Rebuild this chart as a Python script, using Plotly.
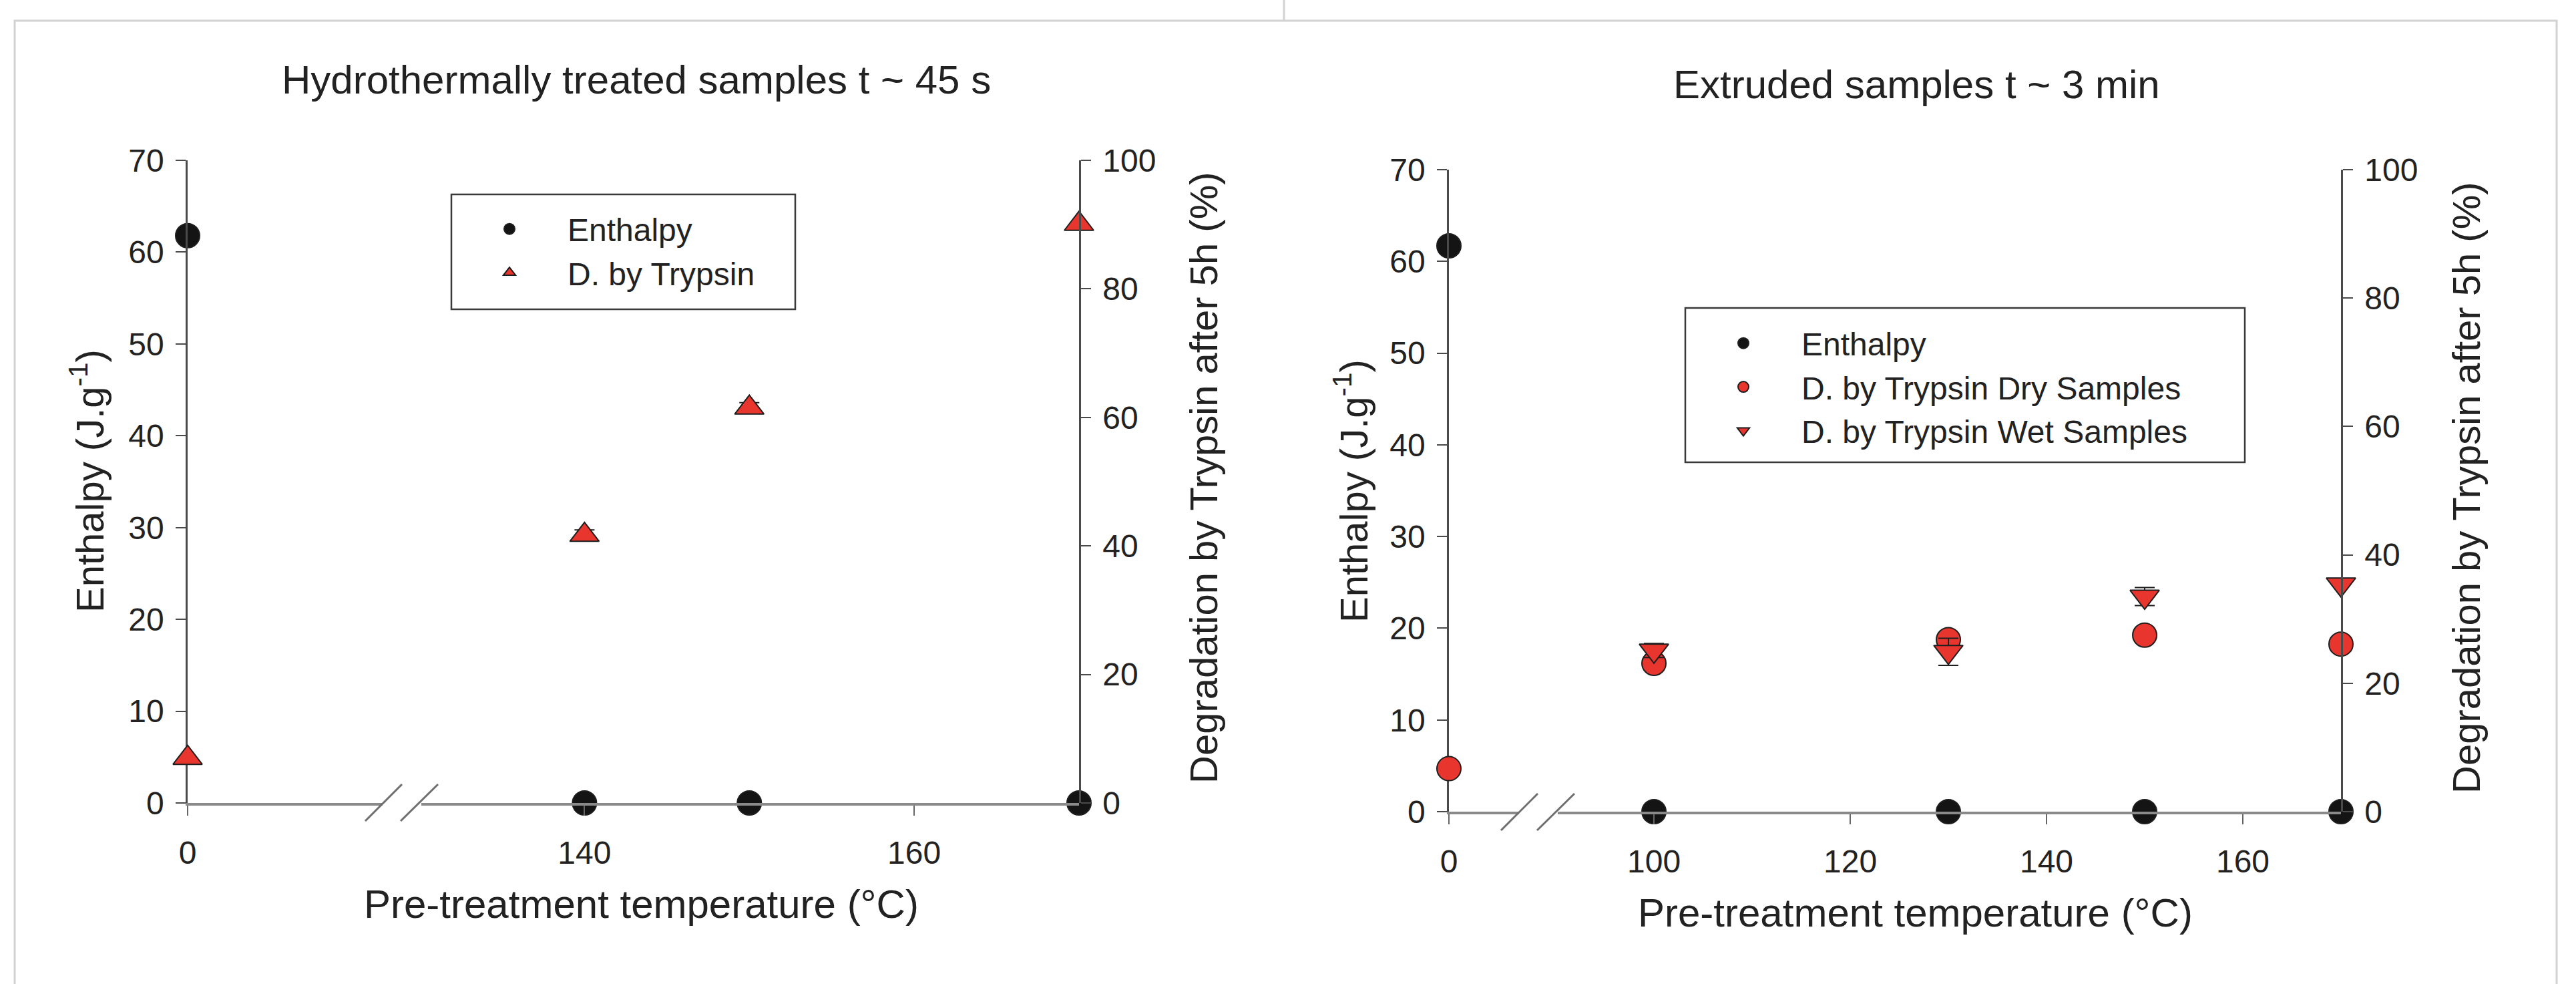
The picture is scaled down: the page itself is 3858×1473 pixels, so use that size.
import plotly.graph_objects as go

W, H = 3858, 1473

# ---------------- data ----------------
# Hydrothermally treated samples (t ~ 45 s)
hyd_temp = [0, 140, 150, 170]
hyd_enthalpy = [61.8, 0, 0, 0]            # J/g
hyd_trypsin = [7.0, 41.7, 61.5, 90.1]      # % degraded after 5 h
hyd_trypsin_err = [0, 0.8, 0.8, 0]

# Extruded samples (t ~ 3 min)
ext_temp = [0, 100, 130, 150, 170]
ext_enthalpy = [61.7, 0, 0, 0, 0]
ext_dry = [6.7, 23.1, 26.8, 27.5, 26.1]
ext_dry_err = [0, 0, 0.6, 0, 0]
ext_wet_temp = [100, 130, 150, 170]
ext_wet = [25.1, 24.9, 33.5, 35.4]
ext_wet_err = [1.1, 2.1, 1.4, 0]

hyd_xticks_low = [0]
hyd_xticks_high = [140, 160]
ext_xticks_low = [0]
ext_xticks_high = [100, 120, 140, 160]
enthalpy_ticks = [0, 10, 20, 30, 40, 50, 60, 70]
degr_ticks = [0, 20, 40, 60, 80, 100]

BREAK = 50  # values below the axis break go on the short left segment

# ---------------- style ----------------
FONT = "Liberation Sans, Arial, Helvetica, sans-serif"
TXT = "#222222"
RED = "#e8352e"
BLACK = "#141414"
EDGE = "#1e1e1e"


def px(x):
    return x / W


def py(y):
    return 1 - y / H


def split(xs, ys, errs=None):
    lo = [i for i, v in enumerate(xs) if v < BREAK]
    hi = [i for i, v in enumerate(xs) if v >= BREAK]
    out = []
    for idx in (lo, hi):
        ex = [xs[i] for i in idx]
        ey = [ys[i] for i in idx]
        ee = [errs[i] for i in idx] if errs is not None else None
        out.append((ex, ey, ee))
    return out


fig = go.Figure()


def add_series(xs, ys, errs, name, symbol, color, size, xlo, xhi, yax, legend):
    parts = split(xs, ys, errs)
    first = True
    for (ex, ey, ee), xa in zip(parts, (xlo, xhi)):
        if not ex:
            continue
        err = None
        if ee is not None and any(e > 0 for e in ee):
            err = dict(type="data", array=ee, color=EDGE, thickness=2, width=15)
        fig.add_trace(go.Scatter(
            x=ex, y=ey, mode="markers", name=name,
            xaxis=xa, yaxis=yax, legend=legend, legendgroup=legend + name,
            showlegend=first, cliponaxis=False,
            marker=dict(symbol=symbol, size=size, color=color,
                        line=dict(color=EDGE, width=2)),
            error_y=err,
        ))
        first = False


# Left panel: x (low seg), x2 (high seg), y (enthalpy), y2 (degradation)
add_series(hyd_temp, hyd_enthalpy, None, "Enthalpy", "circle", BLACK, 36,
           "x", "x2", "y", "legend")
add_series(hyd_temp, hyd_trypsin, hyd_trypsin_err, "D. by Trypsin", "triangle-up", RED, 38,
           "x", "x2", "y2", "legend")

# Right panel: x3 (low seg), x4 (high seg), y3 (enthalpy), y4 (degradation)
add_series(ext_temp, ext_enthalpy, None, "Enthalpy", "circle", BLACK, 36,
           "x3", "x4", "y3", "legend2")
add_series(ext_temp, ext_dry, ext_dry_err, "D. by Trypsin Dry Samples", "circle", RED, 36,
           "x3", "x4", "y4", "legend2")
add_series(ext_wet_temp, ext_wet, ext_wet_err, "D. by Trypsin Wet Samples", "triangle-down", RED, 38,
           "x3", "x4", "y4", "legend2")

# ---------------- axes ----------------
xcommon = dict(showline=True, linecolor="#8a8a8a", linewidth=4, ticks="outside",
               ticklen=15, tickwidth=2, tickcolor="#666666", showgrid=False,
               zeroline=False, tickfont=dict(family=FONT, size=48, color=TXT),
               ticklabelstandoff=14, fixedrange=True, automargin=False)
ycommon = dict(showline=True, linecolor="#4a4a4a", linewidth=2.5, ticks="outside",
               ticklen=15, tickwidth=2, tickcolor="#4a4a4a", showgrid=False,
               zeroline=False, tickfont=dict(family=FONT, size=48, color=TXT),
               ticklabelstandoff=8, fixedrange=True, automargin=False)

# geometry (pixel positions of axis ends)
L_y0, L_ytop = 1202, 240
L_x0, L_brk1, L_brk2, L_x1 = 281, 573, 631, 1616
R_y0, R_ytop = 1215, 254
R_x0, R_brk1, R_brk2, R_x1 = 2170, 2275, 2333, 3506

L_pp = (L_x1 - L_brk2) / (170 - 130.1)   # px per degree, left panel
R_pp = (R_x1 - R_brk2) / (170 - 90.2)    # px per degree, right panel

fig.update_layout(
    xaxis=dict(xcommon, domain=[px(L_x0), px(L_brk1)],
               range=[0, (L_brk1 - L_x0) / L_pp], tickvals=hyd_xticks_low, anchor="y"),
    xaxis2=dict(xcommon, domain=[px(L_brk2), px(L_x1)],
                range=[170 - (L_x1 - L_brk2) / L_pp, 170], tickvals=hyd_xticks_high, anchor="y"),
    yaxis=dict(ycommon, domain=[py(L_y0), py(L_ytop)], range=[0, 70],
               tickvals=enthalpy_ticks, anchor="x", side="left"),
    yaxis2=dict(ycommon, domain=[py(L_y0), py(L_ytop)], range=[0, 100],
                tickvals=degr_ticks, anchor="x2", side="right"),
    xaxis3=dict(xcommon, domain=[px(R_x0), px(R_brk1)],
                range=[0, (R_brk1 - R_x0) / R_pp], tickvals=ext_xticks_low, anchor="y3"),
    xaxis4=dict(xcommon, domain=[px(R_brk2), px(R_x1)],
                range=[170 - (R_x1 - R_brk2) / R_pp, 170], tickvals=ext_xticks_high, anchor="y3"),
    yaxis3=dict(ycommon, domain=[py(R_y0), py(R_ytop)], range=[0, 70],
                tickvals=enthalpy_ticks, anchor="x3", side="left"),
    yaxis4=dict(ycommon, domain=[py(R_y0), py(R_ytop)], range=[0, 100],
                tickvals=degr_ticks, anchor="x4", side="right"),
)

# ---------------- legends ----------------
legcommon = dict(font=dict(family=FONT, size=48, color=TXT), bgcolor="rgba(0,0,0,0)",
                 borderwidth=0, xanchor="left", yanchor="top", itemwidth=164,
                 orientation="v", traceorder="normal")
fig.update_layout(
    legend=dict(legcommon, x=px(676), y=py(305)),
    legend2=dict(legcommon, x=px(2524), y=py(476)),
)

shapes = []
# legend frames
for x0, y0, x1, y1 in [(676, 291, 1191, 463), (2524, 461, 3362, 692)]:
    shapes.append(dict(type="rect", xref="paper", yref="paper",
                       x0=px(x0), x1=px(x1), y0=py(y1), y1=py(y0),
                       line=dict(color="#3a3a3a", width=2.5), fillcolor="rgba(0,0,0,0)"))
# axis-break marks
for x0, y0, x1, y1 in [(547, 1229, 602, 1174), (600, 1229, 656, 1174),
                       (2248, 1243, 2303, 1188), (2302, 1243, 2358, 1188)]:
    shapes.append(dict(type="line", xref="paper", yref="paper",
                       x0=px(x0), y0=py(y0), x1=px(x1), y1=py(y1),
                       line=dict(color="#6e6e6e", width=3)))
# page frame (light grey box around the figure)
shapes.append(dict(type="rect", xref="paper", yref="paper",
                   x0=px(22), x1=px(3829), y0=py(1490), y1=py(31),
                   line=dict(color="#d2d2d2", width=3), fillcolor="rgba(0,0,0,0)", layer="below"))
shapes.append(dict(type="line", xref="paper", yref="paper",
                   x0=px(1923), x1=px(1923), y0=py(0), y1=py(31),
                   line=dict(color="#d2d2d2", width=3), layer="below"))
fig.update_layout(shapes=shapes)

# ---------------- titles ----------------
def ann(text, x, y, size, angle=0):
    return dict(text=text, x=px(x), y=py(y), xref="paper", yref="paper",
                showarrow=False, xanchor="center", yanchor="middle", textangle=angle,
                font=dict(family=FONT, size=size, color=TXT))


annotations = [
    ann("Hydrothermally treated samples t ~ 45 s", 953, 120, 60),
    ann("Extruded samples t ~ 3 min", 2870, 127, 60),
    ann("Pre-treatment temperature (°C)", 960, 1353, 60),
    ann("Pre-treatment temperature (°C)", 2868, 1366, 60),
    ann("Enthalpy (J.g<sup>-1</sup>)", 130, 720, 58, -90),
    ann("Degradation by Trypsin after 5h (%)", 1802, 715, 58, -90),
    ann("Enthalpy (J.g<sup>-1</sup>)", 2023, 735, 58, -90),
    ann("Degradation by Trypsin after 5h (%)", 3693, 730, 58, -90),
]
fig.update_layout(annotations=annotations)

fig.update_layout(
    width=W, height=H, autosize=False,
    margin=dict(l=0, r=0, t=0, b=0, pad=0, autoexpand=False),
    paper_bgcolor="white", plot_bgcolor="rgba(0,0,0,0)",
    font=dict(family=FONT, color=TXT),
)

fig.write_html(
    "out.html",
    config={"displayModeBar": False, "responsive": False},
    post_script=("document.documentElement.style.margin='0';"
                 "document.body.style.margin='0';"
                 "document.documentElement.style.overflow='hidden';"
                 "document.body.style.overflow='hidden';"),
)
